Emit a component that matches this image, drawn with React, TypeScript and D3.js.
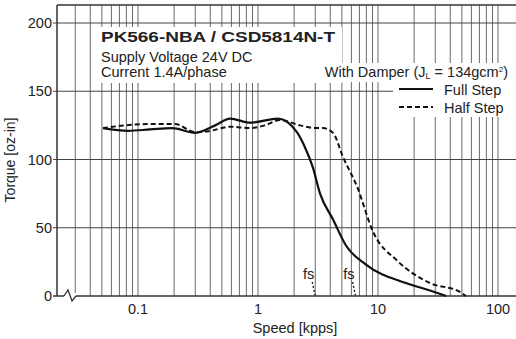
import React, { useEffect, useRef } from "react";
import * as d3 from "d3";

// speed in kpps, torque in oz-in
const fullSpeed = [0.051, 0.083, 0.126, 0.192, 0.3, 0.44, 0.585, 0.86, 1.47, 2.11, 2.46, 2.87, 3.29, 4.22, 5.41, 7.94, 17.1, 27.1, 36.9];
const fullTorque = [123, 121, 122, 123, 119.5, 125, 130, 127, 130, 120, 109, 94, 75, 56, 37, 23, 9.5, 4, 0];

const halfSpeed = [0.051, 0.078, 0.126, 0.203, 0.3, 0.4, 0.585, 0.86, 1.14, 1.53, 2.24, 2.98, 3.48, 4.22, 5.1, 6.7, 9.1, 14.4, 27.1, 48.3, 54];
const halfTorque = [123, 125, 126, 126, 120, 121, 124, 123, 125, 129, 125, 123, 123, 119.5, 102, 80, 47, 26, 9.5, 3, 0];

const xTickValues = [0.1, 1, 10, 100];
const xTickLabels = ["0.1", "1", "10", "100"];
const yTickValues = [0, 50, 100, 150, 200];
const fsSpeeds = [3.0, 6.5];

export default function App() {
  const ref = useRef<SVGSVGElement | null>(null);

  useEffect(() => {
    const W = 516, H = 339;
    const left = 57, right = 530, top = 5, bottom = 296;
    const font = "'Liberation Sans', Arial, sans-serif";
    const ink = "#222";
    const fsz = "14.5px";

    const svg = d3.select(ref.current);
    svg.selectAll("*").remove();

    const x = d3.scaleLog().domain([0.1, 100]).range([138, 498]);
    const y = d3.scaleLinear().domain([0, 200]).range([bottom, 23]);

    // vertical grid 0.03 .. 100
    const gridX: number[] = [];
    [0.01, 0.1, 1, 10].forEach((dec) => {
      for (let k = 1; k < 10; k++) {
        const v = dec * k;
        if (v >= 0.029) gridX.push(v);
      }
    });
    gridX.push(100);

    svg.append("g")
      .selectAll("line")
      .data(gridX)
      .enter()
      .append("line")
      .attr("x1", (d) => x(d))
      .attr("x2", (d) => x(d))
      .attr("y1", top)
      .attr("y2", bottom)
      .attr("stroke", "#6a6a6a")
      .attr("stroke-width", 1);

    // horizontal grid
    svg.append("g")
      .selectAll("line")
      .data(yTickValues.filter((d) => d > 0))
      .enter()
      .append("line")
      .attr("x1", left - 4)
      .attr("x2", right)
      .attr("y1", (d) => y(d))
      .attr("y2", (d) => y(d))
      .attr("stroke", "#444")
      .attr("stroke-width", 1.2);

    // white boxes behind the text blocks
    const boxes = [
      [98, 27, 244, 56],
      [318, 63, 200, 19],
      [393, 82, 125, 35],
    ];
    svg.append("g")
      .selectAll("rect")
      .data(boxes)
      .enter()
      .append("rect")
      .attr("x", (d) => d[0])
      .attr("y", (d) => d[1])
      .attr("width", (d) => d[2])
      .attr("height", (d) => d[3])
      .attr("fill", "#fff");

    // frame
    svg.append("line").attr("x1", left).attr("x2", right).attr("y1", top).attr("y2", top)
      .attr("stroke", "#333").attr("stroke-width", 1.5);
    svg.append("line").attr("x1", left).attr("x2", left).attr("y1", top).attr("y2", bottom)
      .attr("stroke", "#333").attr("stroke-width", 1.5);
    svg.append("line").attr("x1", left - 4).attr("x2", right).attr("y1", bottom).attr("y2", bottom)
      .attr("stroke", "#333").attr("stroke-width", 1.5);

    // axis break
    svg.append("rect").attr("x", 64).attr("y", bottom - 3).attr("width", 12).attr("height", 6).attr("fill", "#fff");
    svg.append("path")
      .attr("d", `M64,${bottom} L68,${bottom - 6} L72,${bottom + 5} L76,${bottom}`)
      .attr("fill", "none").attr("stroke", "#333").attr("stroke-width", 1.3);

    // y labels
    svg.append("g")
      .selectAll("text")
      .data(yTickValues)
      .enter()
      .append("text")
      .attr("x", 52)
      .attr("y", (d) => y(d))
      .attr("dy", "0.36em")
      .attr("text-anchor", "end")
      .style("font-family", font)
      .style("font-size", fsz)
      .attr("fill", ink)
      .text((d) => d);

    // x labels
    svg.append("g")
      .selectAll("text")
      .data(xTickValues)
      .enter()
      .append("text")
      .attr("x", (d) => x(d))
      .attr("y", 314)
      .attr("text-anchor", "middle")
      .style("font-family", font)
      .style("font-size", fsz)
      .attr("fill", ink)
      .text((d, i) => xTickLabels[i]);

    svg.append("text")
      .attr("x", 295).attr("y", 333)
      .attr("text-anchor", "middle")
      .style("font-family", font).style("font-size", fsz).attr("fill", ink)
      .text("Speed [kpps]");

    svg.append("text")
      .attr("transform", "translate(15,160) rotate(-90)")
      .attr("text-anchor", "middle")
      .style("font-family", font).style("font-size", "14px").attr("fill", ink)
      .text("Torque [oz-in]");

    // curves
    const line = d3.line<[number, number]>()
      .x((d) => x(d[0]))
      .y((d) => y(d[1]))
      .curve(d3.curveMonotoneX);

    const fullData = fullSpeed.map((s, i) => [s, fullTorque[i]] as [number, number]);
    const halfData = halfSpeed.map((s, i) => [s, halfTorque[i]] as [number, number]);

    svg.append("path")
      .datum(halfData)
      .attr("fill", "none")
      .attr("stroke", "#111")
      .attr("stroke-width", 2)
      .attr("stroke-dasharray", "5,3")
      .attr("d", line);

    svg.append("path")
      .datum(fullData)
      .attr("fill", "none")
      .attr("stroke", "#111")
      .attr("stroke-width", 2.2)
      .attr("d", line);

    // fs markers
    const fs = svg.append("g");
    fs.selectAll("line")
      .data(fsSpeeds)
      .enter()
      .append("line")
      .attr("x1", (d) => x(d) - 3)
      .attr("x2", (d) => x(d))
      .attr("y1", bottom - 14)
      .attr("y2", bottom)
      .attr("stroke", "#222")
      .attr("stroke-width", 1.4)
      .attr("stroke-dasharray", "2,2");
    fs.selectAll("text")
      .data(fsSpeeds)
      .enter()
      .append("text")
      .attr("x", (d) => x(d) - 1)
      .attr("y", 279)
      .attr("text-anchor", "end")
      .style("font-family", font).style("font-size", fsz).attr("fill", ink)
      .text("fs");

    // title block
    svg.append("text")
      .attr("x", 101).attr("y", 42)
      .attr("textLength", 234).attr("lengthAdjust", "spacingAndGlyphs")
      .style("font-family", font).style("font-size", "15px").style("font-weight", "bold")
      .attr("fill", ink)
      .text("PK566-NBA / CSD5814N-T");
    svg.append("text")
      .attr("x", 101).attr("y", 62)
      .style("font-family", font).style("font-size", fsz).attr("fill", ink)
      .text("Supply Voltage 24V DC");
    svg.append("text")
      .attr("x", 101).attr("y", 77)
      .style("font-family", font).style("font-size", fsz).attr("fill", ink)
      .text("Current 1.4A/phase");

    // damper note
    const note = svg.append("text")
      .attr("x", 508).attr("y", 77)
      .attr("text-anchor", "end")
      .style("font-family", font).style("font-size", fsz).attr("fill", ink);
    note.append("tspan").text("With Damper (J");
    note.append("tspan").attr("dy", 2).style("font-size", "9px").text("L");
    note.append("tspan").attr("dy", -2).text(" = 134gcm");
    note.append("tspan").attr("dy", -5).style("font-size", "8px").text("2");
    note.append("tspan").attr("dy", 5).text(")");

    // legend
    svg.append("line").attr("x1", 399).attr("x2", 433).attr("y1", 89).attr("y2", 89)
      .attr("stroke", "#111").attr("stroke-width", 2.2);
    svg.append("line").attr("x1", 399).attr("x2", 433).attr("y1", 107).attr("y2", 107)
      .attr("stroke", "#111").attr("stroke-width", 2).attr("stroke-dasharray", "5,3");
    svg.append("text").attr("x", 444).attr("y", 95)
      .style("font-family", font).style("font-size", fsz).attr("fill", ink)
      .text("Full Step");
    svg.append("text").attr("x", 444).attr("y", 113)
      .style("font-family", font).style("font-size", fsz).attr("fill", ink)
      .text("Half Step");

    svg.attr("width", W).attr("height", H);
  }, []);

  return (
    <svg
      ref={ref}
      width={516}
      height={339}
      style={{ position: "absolute", left: 0, top: 0, background: "#fff" }}
    />
  );
}
